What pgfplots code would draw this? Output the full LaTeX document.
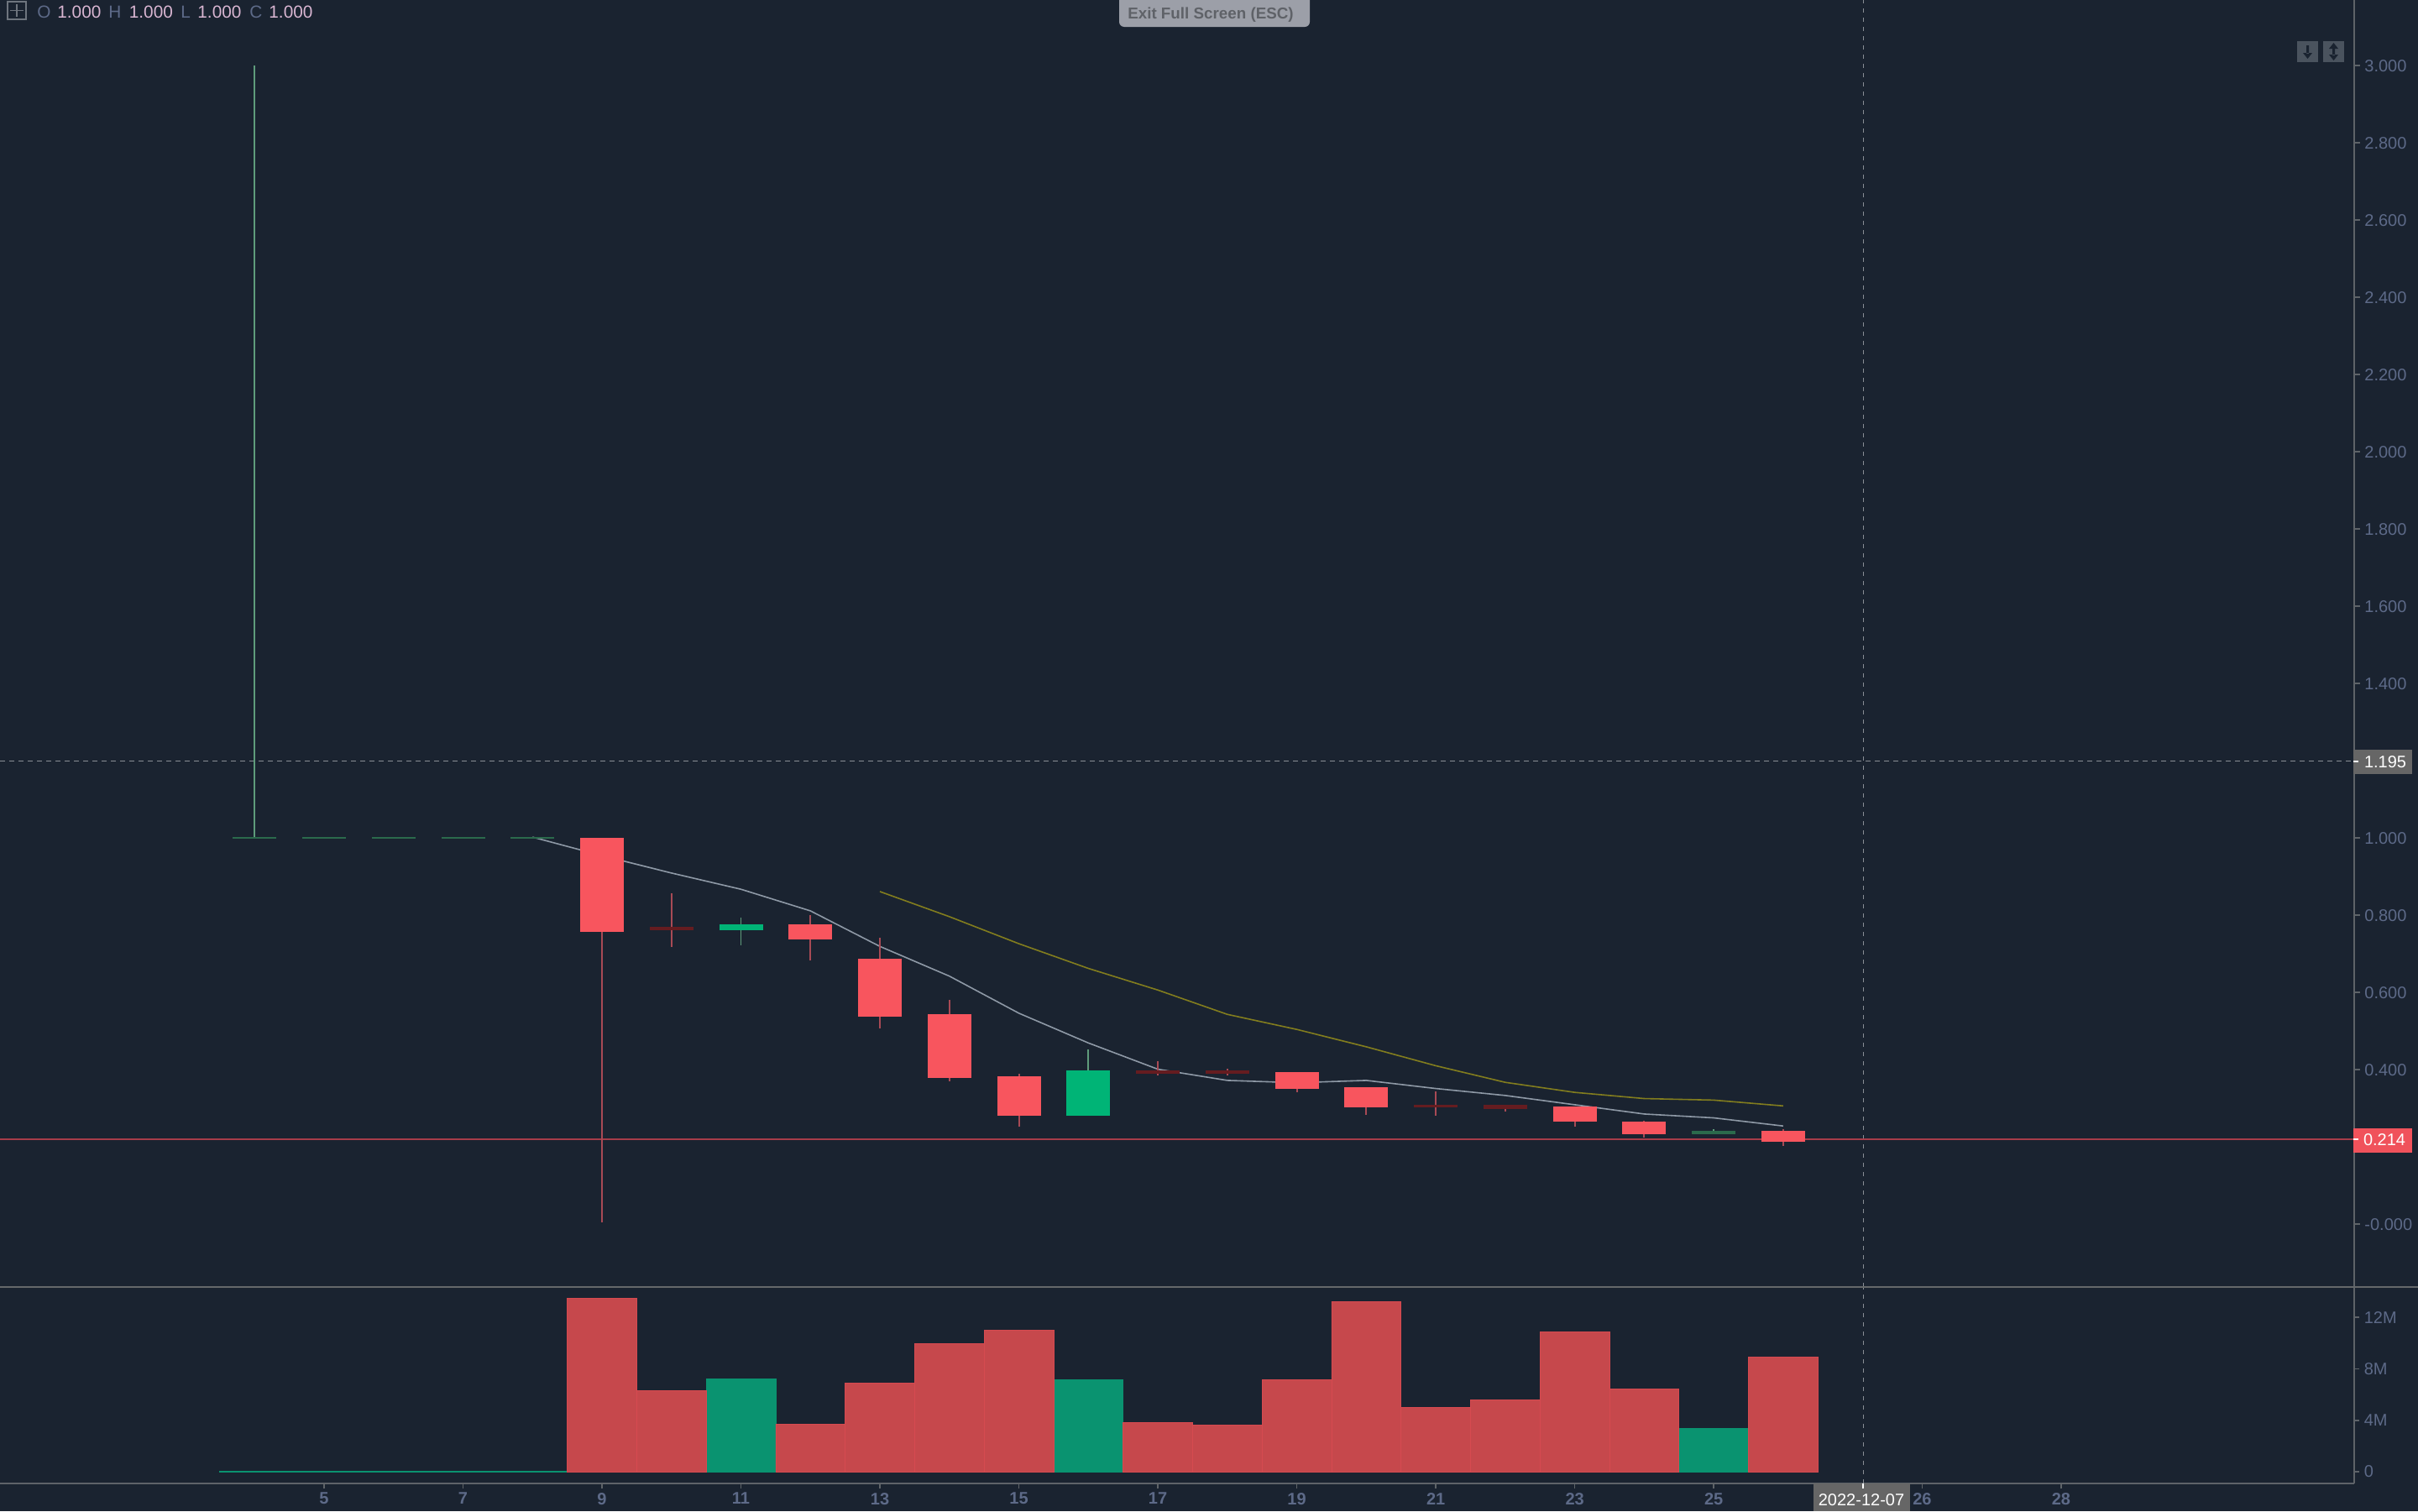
\documentclass[border=0pt]{standalone}
\usepackage{pgfplots}
\pgfplotsset{compat=1.18}
\usepackage{fontspec}
\setmainfont{Liberation Sans}
\definecolor{bgc}{HTML}{1A2330}
\definecolor{axc}{HTML}{5E6368}
\definecolor{sepc}{HTML}{65686A}
\definecolor{labc}{HTML}{5D6A88}
\definecolor{upc}{HTML}{00B476}
\definecolor{dnc}{HTML}{F8555E}
\definecolor{wickdn}{HTML}{A84A55}
\definecolor{wickup}{HTML}{5F9C7B}
\definecolor{dojidn}{HTML}{651C20}
\definecolor{dojiup}{HTML}{2B6A4C}
\definecolor{maone}{HTML}{8E99A6}
\definecolor{matwo}{HTML}{827D1E}
\definecolor{volr}{HTML}{C6484C}
\definecolor{volrl}{HTML}{D64A50}
\definecolor{volg}{HTML}{0A9370}
\definecolor{pink}{HTML}{D9B6D2}
\definecolor{tagg}{HTML}{666666}
\definecolor{tagr}{HTML}{F0525B}
\definecolor{cross}{HTML}{8A8F96}
\definecolor{lastline}{HTML}{A63C49}
\definecolor{btn}{HTML}{9C9FA8}
\definecolor{btnt}{HTML}{5F6268}
\definecolor{icon}{HTML}{4A535E}
\newcommand{\sz}{\fontsize{10}{12}\selectfont}
\begin{document}
\begin{tikzpicture}
\path[use as bounding box,fill=bgc] (0pt,0pt) rectangle (1440pt,-900pt);

% ---------- price panel
\begin{axis}[
  at={(0pt,-766.5pt)},anchor=south west,
  scale only axis,width=1402pt,height=766.5pt,
  xmin=0.336,xmax=34.218,ymin=-0.163,ymax=3.1696,
  axis x line=none,axis y line=right,
  axis line style={draw=axc,line width=1pt,-},
  tick align=outside,major tick length=3.5pt,
  tick style={draw=axc,line width=0.8pt},
  ytick={0,0.4,0.6,0.8,1,1.4,1.6,1.8,2,2.2,2.4,2.6,2.8,3},
  yticklabels={-0.000,0.400,0.600,0.800,1.000,1.400,1.600,1.800,2.000,2.200,2.400,2.600,2.800,3.000},
  yticklabel style={font=\sz,text=labc,inner sep=0pt,xshift=2.5pt,yshift=-0.4pt},
]
% crosshair and last price
\addplot[cross,line width=0.5pt,dash pattern=on 2.75pt off 2.75pt] coordinates {(0.336,1.198) (34.218,1.198)};
\addplot[cross,line width=0.5pt,dash pattern=on 2.75pt off 2.75pt] coordinates {(27.15,-0.163) (27.15,3.1696)};
\addplot[lastline,line width=1pt] coordinates {(0.336,0.219) (34.218,0.219)};
% moving averages
\addplot[maone,line width=0.8pt] coordinates {
 (8,1.002)(9,0.954)(10,0.909)(11,0.867)(12,0.811)(13,0.719)(14,0.642)(15,0.546)(16,0.469)
 (17,0.401)(18,0.372)(19,0.366)(20,0.372)(21,0.351)(22,0.333)(23,0.309)(24,0.285)(25,0.275)(26,0.254)};
\addplot[matwo,line width=0.8pt] coordinates {
 (13,0.861)(14,0.796)(15,0.726)(16,0.662)(17,0.606)(18,0.543)(19,0.504)(20,0.459)(21,0.410)
 (22,0.367)(23,0.341)(24,0.325)(25,0.321)(26,0.306)};
% wicks: high, low of each session
\addplot[wickup,line width=0.85pt,unbounded coords=jump] coordinates {
 (4,3.0)(4,1.0)(4,nan)
 (11,0.794)(11,0.722)(11,nan)
 (16,0.452)(16,0.280)(16,nan)
 (25,0.245)(25,0.232)};
\addplot[wickdn,line width=1pt,unbounded coords=jump] coordinates {
 (9,1.0)(9,0.005)(9,nan)
 (10,0.856)(10,0.718)(10,nan)
 (12,0.800)(12,0.683)(12,nan)
 (13,0.742)(13,0.507)(13,nan)
 (14,0.581)(14,0.370)(14,nan)
 (15,0.389)(15,0.253)(15,nan)
 (17,0.422)(17,0.385)(17,nan)
 (18,0.402)(18,0.385)(18,nan)
 (19,0.393)(19,0.342)(19,nan)
 (20,0.354)(20,0.283)(20,nan)
 (21,0.343)(21,0.280)(21,nan)
 (22,0.308)(22,0.292)(22,nan)
 (23,0.304)(23,0.253)(23,nan)
 (24,0.268)(24,0.225)(24,nan)
 (26,0.245)(26,0.2015)};
% flat sessions
\addplot[dojiup,line width=26pt,unbounded coords=jump] coordinates {
 (4,1.003)(4,0.997)(4,nan)(5,1.003)(5,0.997)(5,nan)(6,1.003)(6,0.997)(6,nan)
 (7,1.003)(7,0.997)(7,nan)(8,1.003)(8,0.997)(8,nan)
 (25,0.241)(25,0.232)};
\addplot[dojidn,line width=26pt,unbounded coords=jump] coordinates {
 (10,0.770)(10,0.762)(10,nan)
 (17,0.397)(17,0.389)(17,nan)
 (18,0.397)(18,0.390)(18,nan)
 (21,0.308)(21,0.302)(21,nan)
 (22,0.308)(22,0.299)};
% candle bodies
\addplot[upc,line width=26pt,unbounded coords=jump] coordinates {
 (11,0.777)(11,0.762)(11,nan)
 (16,0.398)(16,0.280)};
\addplot[dnc,line width=26pt,unbounded coords=jump] coordinates {
 (9,1.0)(9,0.757)(9,nan)
 (12,0.777)(12,0.738)(12,nan)
 (13,0.688)(13,0.538)(13,nan)
 (14,0.543)(14,0.378)(14,nan)
 (15,0.383)(15,0.280)(15,nan)
 (19,0.393)(19,0.351)(19,nan)
 (20,0.354)(20,0.303)(20,nan)
 (23,0.304)(23,0.265)(23,nan)
 (24,0.265)(24,0.233)(24,nan)
 (26,0.241)(26,0.214)};
\end{axis}

% ---------- volume panel
\begin{axis}[
  at={(0pt,-883.5pt)},anchor=south west,
  scale only axis,width=1402pt,height=117pt,
  xmin=0.336,xmax=34.218,ymin=-0.91,ymax=14.36,
  axis x line=bottom,axis y line=right,
  axis line style={draw=axc,line width=1pt,-},
  tick align=outside,major tick length=3.2pt,
  tick style={draw=axc,line width=0.8pt},
  xtick={5,7,9,11,13,15,17,19,21,23,25,28,30},
  xticklabels={5,7,9,11,13,15,17,19,21,23,25,26,28},
  xticklabel style={font=\sz\bfseries,text=labc,inner sep=0pt,yshift=-2.2pt},
  ytick={0,4,8,12},
  yticklabels={0,4M,8M,12M},
  yticklabel style={font=\sz,text=labc,inner sep=0pt,xshift=2.5pt},
]
\addplot[cross,line width=0.5pt,dash pattern=on 2.75pt off 2.75pt] coordinates {(27.15,-0.91) (27.15,14.36)};
\addplot[ybar,bar width=41.38pt,bar shift=0pt,fill=volg,draw=volg,line width=0.4pt] coordinates {
 (4,0.03)(5,0.03)(6,0.03)(7,0.03)(8,0.03)(11,7.24)(16,7.13)(25,3.35)};
\addplot[ybar,bar width=41.38pt,bar shift=0pt,fill=volr,draw=volrl,line width=0.4pt] coordinates {
 (9,13.5)(10,6.33)(12,3.72)(13,6.89)(14,9.96)(15,11.0)(17,3.85)(18,3.61)(19,7.13)
 (20,13.24)(21,5.02)(22,5.61)(23,10.89)(24,6.44)(26,8.89)};
\end{axis}

% ---------- chrome (pixel coordinates of the 2880x1800 frame)
\begin{scope}[x=0.5pt,y=-0.5pt]
\draw[sepc,line width=1pt] (0,1533) -- (2880,1533);
% header
\draw[icon!80!white,line width=0.6pt] (9,2) rectangle (31,23);
\draw[icon!80!white,line width=0.6pt] (20,5) -- (20,20) (12,12.5) -- (28,12.5);
\begin{scope}[every node/.style={font=\fontsize{10.4}{12}\selectfont,inner sep=0pt,anchor=base west}]
\node[text=labc] at (44,21) {O};
\node[text=pink] at (68,21) {1.000};
\node[text=labc] at (129,21) {H};
\node[text=pink] at (153.5,21) {1.000};
\node[text=labc] at (215,21) {L};
\node[text=pink] at (235,21) {1.000};
\node[text=labc] at (297,21) {C};
\node[text=pink] at (320,21) {1.000};
\end{scope}
% exit button
\fill[btn,rounded corners=3pt] (1333,-10) rectangle (1560,32);
\node[text=btnt,font=\fontsize{9.4}{11}\selectfont\bfseries,inner sep=0pt] at (1442,17.5) {Exit Full Screen (ESC)};
% scale buttons
\fill[icon] (2736,49) rectangle (2761,74);
\fill[icon] (2767,49) rectangle (2792,74);
\fill[bgc] (2747,54) rectangle (2750,64) (2743,63) -- (2754,63) -- (2748.5,70) -- cycle;
\fill[bgc] (2778,57) rectangle (2781,66)
  (2774,58) -- (2785,58) -- (2779.5,51) -- cycle
  (2774,65) -- (2785,65) -- (2779.5,72) -- cycle;
% price tags
\fill[tagg] (2803,893) rectangle (2873,922);
\draw[white,line width=0.6pt] (2803,907) -- (2809,907);
\node[text=white,font=\fontsize{10}{12}\selectfont,inner sep=0pt] at (2841,907.5) {1.195};
\fill[tagr] (2803,1344) rectangle (2873,1372.5);
\draw[white,line width=0.6pt] (2803,1357) -- (2809,1357);
\node[text=white,font=\fontsize{10}{12}\selectfont,inner sep=0pt] at (2840,1358) {0.214};
% date tag
\fill[tagg] (2160,1767) rectangle (2275,1800);
\draw[white,line width=0.6pt] (2219,1767) -- (2219,1773);
\node[text=white,font=\fontsize{10}{12}\selectfont,inner sep=0pt] at (2217,1787) {2022-12-07};
\end{scope}
\end{tikzpicture}
\end{document}
